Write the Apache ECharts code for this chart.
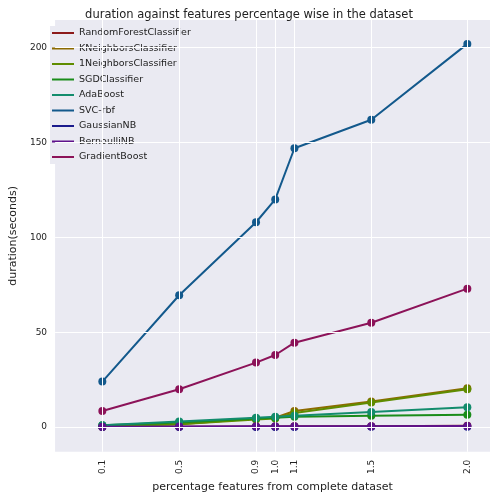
<!DOCTYPE html>
<html><head><meta charset="utf-8">
<script src="https://cdn.jsdelivr.net/npm/echarts@6/dist/echarts.min.js"></script>
<style>body{margin:0}#c{width:498px;height:498px}</style></head>
<body><div id="c"></div>
<script>
var xs = [0.1, 0.5, 0.9, 1.0, 1.1, 1.5, 2.0];
var yTicks = [0, 50, 100, 150, 200];
var names = ['RandomForestClassifier','KNeighborsClassifier','1NeighborsClassifier','SGDClassifier','AdaBoost','SVC-rbf','GaussianNB','BernoulliNB','GradientBoost'];
var colors = ['#8c1a1a','#8c6a00','#5f8c00','#1a8c1a','#138c6d','#13598c','#1a1a8c','#5f138c','#8c1359'];
var rf = [0.1, 0.2, 0.3, 0.3, 0.4, 0.5, 0.7];
var knn = [0.5, 1.5, 4.5, 5, 8.5, 13.5, 20.5];
var nn1 = [0.5, 1.5, 4, 4.5, 7.5, 13, 20];
var sgd = [1, 2.5, 4.5, 5, 5.5, 6, 6.5];
var ada = [1, 3, 5, 5.5, 6, 8, 10.5];
var svc = [24, 69.5, 108, 120, 147, 162, 202];
var gnb = [0.1, 0.1, 0.1, 0.1, 0.1, 0.2, 0.2];
var bnb = [0.2, 0.3, 0.4, 0.4, 0.4, 0.5, 0.6];
var gb = [8.5, 20, 34, 38, 44.5, 55, 73];
var vals = [rf, knn, nn1, sgd, ada, svc, gnb, bnb, gb];

var series = [{
  type: 'line', data: [], z: 1, silent: true, color: '#ffffff',
  markLine: {
    silent: true, symbol: 'none', label: {show: false},
    lineStyle: {color: '#ffffff', type: 'solid', width: 1},
    data: xs.map(function(x){ return {xAxis: x}; }).concat(yTicks.map(function(y){ return {yAxis: y}; }))
  }
}];
names.forEach(function(n, i) {
  series.push({
    name: n, type: 'line', symbol: 'circle', symbolSize: 8,
    color: colors[i], itemStyle: {color: colors[i]}, lineStyle: {width: 2, color: colors[i]}, z: 3,
    data: xs.map(function(x, j){ return [x, vals[i][j]]; })
  });
});

var chart = echarts.init(document.getElementById('c'));
chart.setOption({
  animation: false,
  title: {text: 'duration against features percentage wise in the dataset', left: 'center', top: 4,
    textStyle: {fontSize: 11.5, fontWeight: 'normal', color: '#222', fontFamily: 'DejaVu Sans'}},
  legend: {orient: 'vertical', left: 50, top: 26, itemWidth: 22, itemHeight: 2, itemGap: 5.5,
    padding: [2, 4, 2, 2], backgroundColor: '#eaeaf2',
    icon: 'rect', data: names,
    textStyle: {fontSize: 9.5, color: '#222', fontFamily: 'DejaVu Sans'}},
  grid: {left: 48, right: 8, top: 20, bottom: 42, show: true, backgroundColor: '#eaeaf2', borderWidth: 0},
  xAxis: {type: 'value', min: -0.146, max: 2.118,
    name: 'percentage features from complete dataset', nameLocation: 'middle', nameGap: 29,
    nameTextStyle: {fontSize: 11, color: '#222', fontFamily: 'DejaVu Sans'},
    axisLine: {show: false}, axisTick: {show: false}, splitLine: {show: false},
    axisLabel: {customValues: xs, rotate: 90, fontSize: 9, color: '#222', fontFamily: 'DejaVu Sans',
      formatter: function(v){ return v.toFixed(1); }}},
  yAxis: {type: 'value', min: -13, max: 214.6,
    name: 'duration(seconds)', nameLocation: 'middle', nameGap: 32,
    nameTextStyle: {fontSize: 11, color: '#222', fontFamily: 'DejaVu Sans'},
    axisLine: {show: false}, axisTick: {show: false}, splitLine: {show: false},
    axisLabel: {customValues: yTicks, fontSize: 9, color: '#222', fontFamily: 'DejaVu Sans'}},
  series: series
});
</script></body></html>
